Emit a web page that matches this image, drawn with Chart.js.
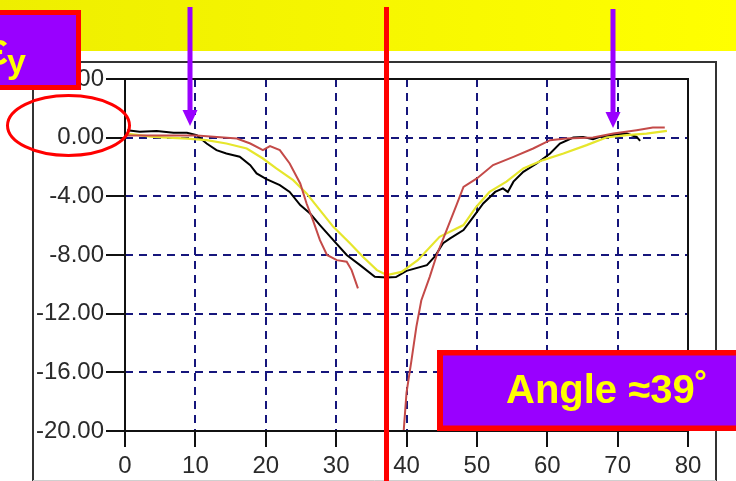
<!DOCTYPE html>
<html>
<head>
<meta charset="utf-8">
<script src="https://cdn.jsdelivr.net/npm/chart.js@4"></script>
<style>
  html, body { margin: 0; padding: 0; background: #fff; }
  #wrap { position: relative; width: 736px; height: 481px; }
</style>
</head>
<body>
<div id="wrap"><canvas id="c" width="736" height="481"></canvas></div>
<script>
// Strain profile across the weld: measured (black), model (yellow), second run (red)
const blackX = [0.3, 2.1, 4.5, 6.9, 8.8, 10.2, 11.6, 13.0, 14.4, 16.3, 17.8, 18.7, 20.1, 22.0, 23.4, 24.9, 26.3, 27.7, 29.6, 31.5, 33.4, 35.5, 37.2, 38.5, 40.0, 42.9, 44.0, 45.2, 46.2, 48.1, 49.5, 50.9, 52.6, 53.7, 54.4, 55.2, 56.6, 58.5, 60.4, 61.8, 63.7, 65.1, 66.5, 67.4, 69.8, 71.3, 72.7, 73.2];
const blackY = [0.51, 0.40, 0.46, 0.33, 0.33, 0.17, -0.40, -0.85, -1.08, -1.30, -1.87, -2.44, -2.83, -3.24, -3.70, -4.60, -5.17, -5.96, -6.99, -8.00, -8.69, -9.49, -9.53, -9.50, -9.08, -8.69, -8.12, -7.20, -6.87, -6.30, -5.40, -4.49, -3.70, -3.46, -3.70, -3.00, -2.33, -1.76, -1.08, -0.40, 0.01, 0.05, -0.10, 0.05, 0.22, 0.28, 0.05, -0.22];

const yellowX = [0.2, 4.0, 8.8, 11.6, 14.4, 17.3, 19.6, 21.5, 23.9, 25.8, 27.7, 29.6, 32.0, 33.8, 35.8, 37.2, 39.3, 41.6, 44.7, 48.1, 49.9, 51.8, 54.2, 56.6, 59.4, 62.3, 65.6, 68.4, 71.3, 74.1, 77.0];
const yellowY = [0.28, 0.05, -0.06, -0.17, -0.40, -0.74, -1.42, -2.10, -2.90, -3.80, -4.94, -6.08, -7.21, -8.12, -9.03, -9.37, -9.15, -8.35, -6.76, -5.96, -4.72, -3.70, -3.00, -2.10, -1.53, -1.08, -0.51, 0.01, 0.17, 0.28, 0.46];

const redX = [0.2, 10.2, 15.9, 17.8, 19.6, 20.6, 22.0, 23.4, 24.9, 25.8, 26.7, 27.7, 28.7, 30.1, 31.5, 32.2, 33.1, 36.0, 39.6, 40.0, 40.7, 41.4, 42.1, 43.3, 44.3, 45.7, 47.1, 48.1, 50.0, 52.3, 55.2, 58.0, 60.4, 62.7, 66.5, 69.4, 72.7, 75.0, 76.7];
const redY = [0.15, 0.15, -0.06, -0.40, -0.85, -0.58, -0.85, -1.76, -3.12, -4.49, -5.62, -6.99, -8.00, -8.35, -8.46, -9.03, -10.28, null, -20.0, -17.4, -15.2, -12.9, -11.1, -9.49, -8.00, -6.30, -4.60, -3.35, -2.78, -1.87, -1.31, -0.74, -0.17, -0.06, 0.01, 0.28, 0.51, 0.69, 0.69];

const xTicks = [0, 10, 20, 30, 40, 50, 60, 70, 80];
const yTicks = [4, 0, -4, -8, -12, -16, -20];

const pts = (xs, ys) => xs.map((x, i) => ({ x: x, y: ys[i] }));

const GRID = '#16167c';
const INK = '#2a2a2a';

function edgeAware(lo, hi) {
  return (ctx) => {
    const v = ctx.tick ? ctx.tick.value : null;
    return (v === lo || v === hi) ? 'rgba(0,0,0,0)' : GRID;
  };
}

const decor = {
  id: 'decor',
  beforeDraw(chart) {
    const c = chart.ctx;
    c.save();
    c.fillStyle = '#ffffff';
    c.fillRect(0, 0, 736, 481);
    const g = c.createLinearGradient(0, 0, 736, 0);
    g.addColorStop(0, '#eeee00');
    g.addColorStop(1, '#ffff00');
    c.fillStyle = g;
    c.fillRect(0, 0, 736, 51);
    // outer panel frame
    c.strokeStyle = '#333';
    c.lineWidth = 2;
    c.beginPath();
    c.moveTo(33, 481); c.lineTo(33, 62); c.lineTo(716, 62); c.lineTo(716, 481);
    c.stroke();
    c.strokeStyle = '#cfcfcf';
    c.lineWidth = 1;
    c.beginPath(); c.moveTo(33, 480.5); c.lineTo(716, 480.5); c.stroke();
    c.restore();
  },
  afterDatasetsDraw(chart) {
    const c = chart.ctx;
    const a = chart.chartArea;
    c.save();
    c.strokeStyle = '#111';
    c.lineWidth = 2;
    c.setLineDash([]);
    c.strokeRect(a.left, a.top, a.right - a.left, a.bottom - a.top);
    c.restore();
  },
  afterDraw(chart) {
    const c = chart.ctx;
    c.save();
    c.setLineDash([]);

    // red marker line
    c.fillStyle = '#ff0000';
    c.fillRect(384, 7, 5, 474);

    // arrows
    const arrow = (x, y0, y1) => {
      c.fillStyle = '#9900ff';
      c.fillRect(x - 2.5, y0, 5, y1 - y0 - 14);
      c.beginPath();
      c.moveTo(x - 7.5, y1 - 16);
      c.lineTo(x + 7.5, y1 - 16);
      c.lineTo(x, y1);
      c.closePath();
      c.fill();
    };
    arrow(190, 7, 126);
    arrow(613, 9, 128);

    // ellipse round the zero label
    c.strokeStyle = '#ff0000';
    c.lineWidth = 3;
    c.beginPath();
    c.ellipse(68.5, 125.5, 61, 30, 0, 0, Math.PI * 2);
    c.stroke();

    // symbol box
    c.fillStyle = '#ff0000';
    c.fillRect(-10, 10, 91, 80);
    c.fillStyle = '#9900ff';
    c.fillRect(-5, 15, 81, 70);
    c.fillStyle = '#ffff00';
    c.textBaseline = 'alphabetic';
    c.font = 'bold 46px "Liberation Sans", Arial, sans-serif';
    c.textAlign = 'right';
    c.fillText('\u03b5', 8, 65);
    c.textAlign = 'left';
    c.font = 'bold 34px "Liberation Sans", Arial, sans-serif';
    c.fillText('y', 7, 73);

    // angle box
    c.fillStyle = '#ff0000';
    c.fillRect(437, 350, 310, 81);
    c.fillStyle = '#9900ff';
    c.fillRect(443, 355.5, 310, 70);
    c.fillStyle = '#ffff00';
    c.font = 'bold 40px "Liberation Sans", Arial, sans-serif';
    c.textAlign = 'left';
    c.fillText('Angle \u224839\u02da', 506, 403);

    c.restore();
  }
};

new Chart(document.getElementById('c'), {
  type: 'line',
  data: {
    datasets: [
      { data: pts(redX, redY), borderColor: '#c44a48', borderWidth: 2, spanGaps: false },
      { data: pts(yellowX, yellowY), borderColor: '#e6e62c', borderWidth: 2.2 },
      { data: pts(blackX, blackY), borderColor: '#000000', borderWidth: 2 }
    ]
  },
  options: {
    responsive: false,
    animation: false,
    devicePixelRatio: 1,
    layout: { padding: { left: 0, right: 48, top: 79, bottom: 0 } },
    plugins: { legend: { display: false }, tooltip: { enabled: false } },
    elements: { point: { radius: 0 }, line: { tension: 0, fill: false } },
    scales: {
      x: {
        type: 'linear', min: 0, max: 80,
        afterFit(s) { s.height = 50; },
        afterBuildTicks(s) { s.ticks = xTicks.map(v => ({ value: v })); },
        ticks: {
          color: INK, padding: 5, maxRotation: 0, autoSkip: false,
          font: { family: '"Liberation Sans", Arial, sans-serif', size: 24 },
          callback: v => String(v)
        },
        grid: {
          color: edgeAware(0, 80), lineWidth: 2, borderDash: [8, 6],
          tickColor: '#111', tickWidth: 2, tickLength: 16, tickBorderDash: []
        },
        border: { display: false, dash: [8, 6] }
      },
      y: {
        type: 'linear', min: -20, max: 4,
        afterFit(s) { s.width = 125; },
        afterBuildTicks(s) { s.ticks = yTicks.map(v => ({ value: v })); },
        ticks: {
          color: INK, padding: 2, autoSkip: false,
          font: { family: '"Liberation Sans", Arial, sans-serif', size: 24 },
          callback: v => Number(v).toFixed(2)
        },
        grid: {
          color: edgeAware(4, -20), lineWidth: 2, borderDash: [8, 6],
          tickColor: '#111', tickWidth: 2, tickLength: 19, tickBorderDash: []
        },
        border: { display: false, dash: [8, 6] }
      }
    }
  },
  plugins: [decor]
});
</script>
</body>
</html>
